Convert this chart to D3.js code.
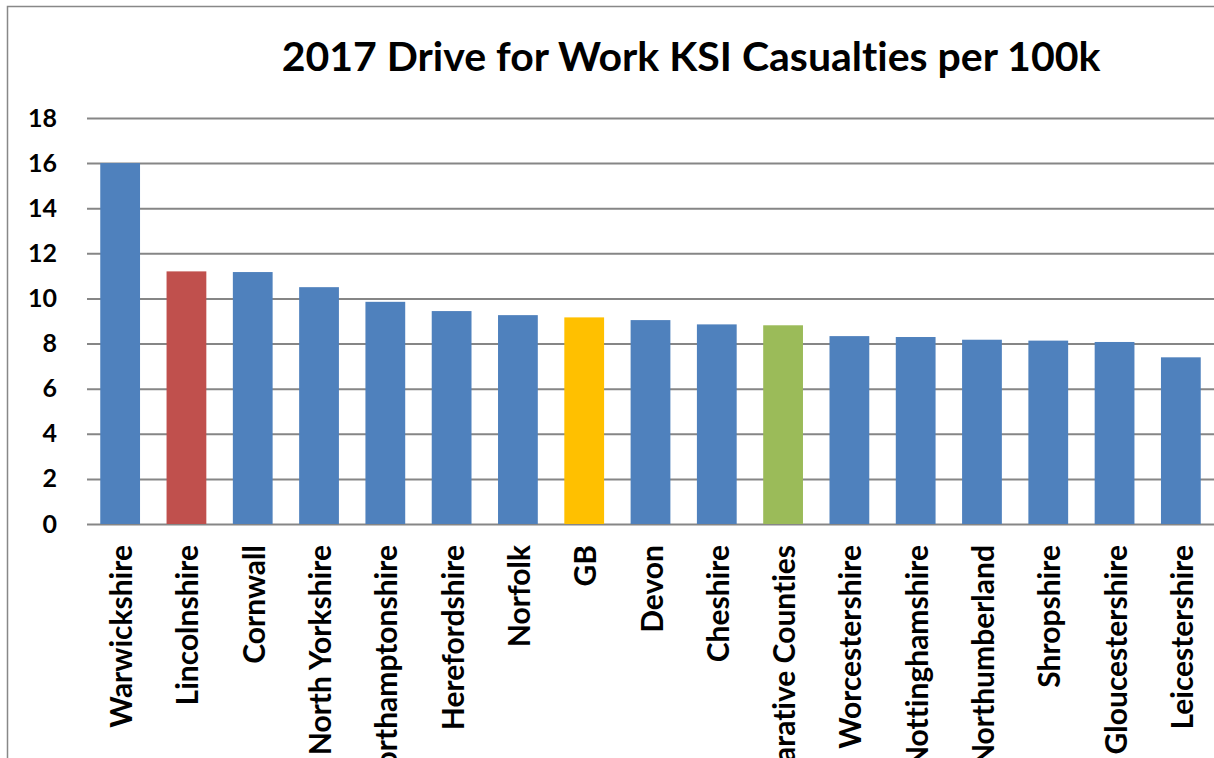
<!DOCTYPE html>
<html>
<head>
<meta charset="utf-8">
<script src="https://cdn.jsdelivr.net/npm/d3@7"></script>
<style>
  html, body { margin: 0; padding: 0; background: #fff; overflow: hidden; }
  svg { display: block; }
  text { font-family: Lato, "Open Sans", sans-serif; font-weight: bold; fill: #000; font-variant-ligatures: none; }
</style>
</head>
<body>
<svg id="chart" width="1214" height="758"></svg>
<script>
// Drive-for-work killed or seriously injured casualties per 100k, 2017
const categories = [
  "Warwickshire", "Lincolnshire", "Cornwall", "North Yorkshire", "Northamptonshire",
  "Herefordshire", "Norfolk", "GB", "Devon", "Cheshire", "Comparative Counties",
  "Worcestershire", "Nottinghamshire", "Northumberland", "Shropshire",
  "Gloucestershire", "Leicestershire"
];
const values = [16.0, 11.2, 11.17, 10.5, 9.85, 9.44, 9.26, 9.16, 9.04, 8.85, 8.81, 8.33, 8.29, 8.17, 8.13, 8.07, 7.39];
const yTicks = [0, 2, 4, 6, 8, 10, 12, 14, 16, 18];
const title = "2017 Drive for Work KSI Casualties per 100k";

// Highlighted bars; everything else uses the default blue
const highlight = { "Lincolnshire": "#C0504D", "GB": "#FFC000", "Comparative Counties": "#9BBB59" };
const defaultColor = "#4F81BD";

const svg = d3.select("#chart");
const W = 1214, H = 758;
const plot = { left: 87, right: 1214, top: 118, bottom: 524 };

// Outer chart frame
svg.append("rect")
  .attr("x", 7.5).attr("y", 6.5)
  .attr("width", W + 20).attr("height", H + 20)
  .attr("fill", "none").attr("stroke", "#888").attr("stroke-width", 1.5);

const x = d3.scaleBand()
  .domain(categories)
  .range([plot.left, plot.right])
  .paddingInner(0.4)
  .paddingOuter(0.2);

const y = d3.scaleLinear().domain([0, 18]).range([plot.bottom, plot.top]);

// Horizontal gridlines with value labels
const yAxis = d3.axisLeft(y)
  .tickValues(yTicks)
  .tickSize(-(plot.right - plot.left + 10))
  .tickPadding(30);

const gy = svg.append("g")
  .attr("transform", `translate(${plot.left},0)`)
  .call(yAxis);
gy.select(".domain").remove();
gy.selectAll(".tick line").attr("stroke", "#868686").attr("stroke-width", 2);
gy.selectAll(".tick text")
  .attr("font-size", 25)
  .attr("x", -30)
  .style("font-family", "Lato, sans-serif")
  .style("font-weight", "bold")
  .attr("fill", "#000");

// Bars
svg.append("g").selectAll("rect")
  .data(categories)
  .join("rect")
  .attr("x", d => x(d))
  .attr("width", x.bandwidth())
  .attr("y", (d, i) => y(values[i]))
  .attr("height", (d, i) => y(0) - y(values[i]))
  .attr("fill", d => highlight[d] || defaultColor);

// Category labels, rotated
const gx = svg.append("g")
  .attr("transform", `translate(0,${plot.bottom})`)
  .call(d3.axisBottom(x).tickSize(0).tickPadding(0));
gx.select(".domain").remove();
gx.selectAll(".tick text")
  .attr("font-size", 30)
  .attr("transform", "rotate(-90)")
  .attr("text-anchor", "end")
  .attr("dy", "0.4em")
  .attr("x", -21)
  .attr("y", 0)
  .style("font-family", "Lato, sans-serif")
  .style("font-weight", "bold")
  .attr("fill", "#000");

// Title
svg.append("text")
  .attr("x", 691)
  .attr("y", 71)
  .attr("text-anchor", "middle")
  .attr("font-size", 41)
  .text(title);
</script>
</body>
</html>
